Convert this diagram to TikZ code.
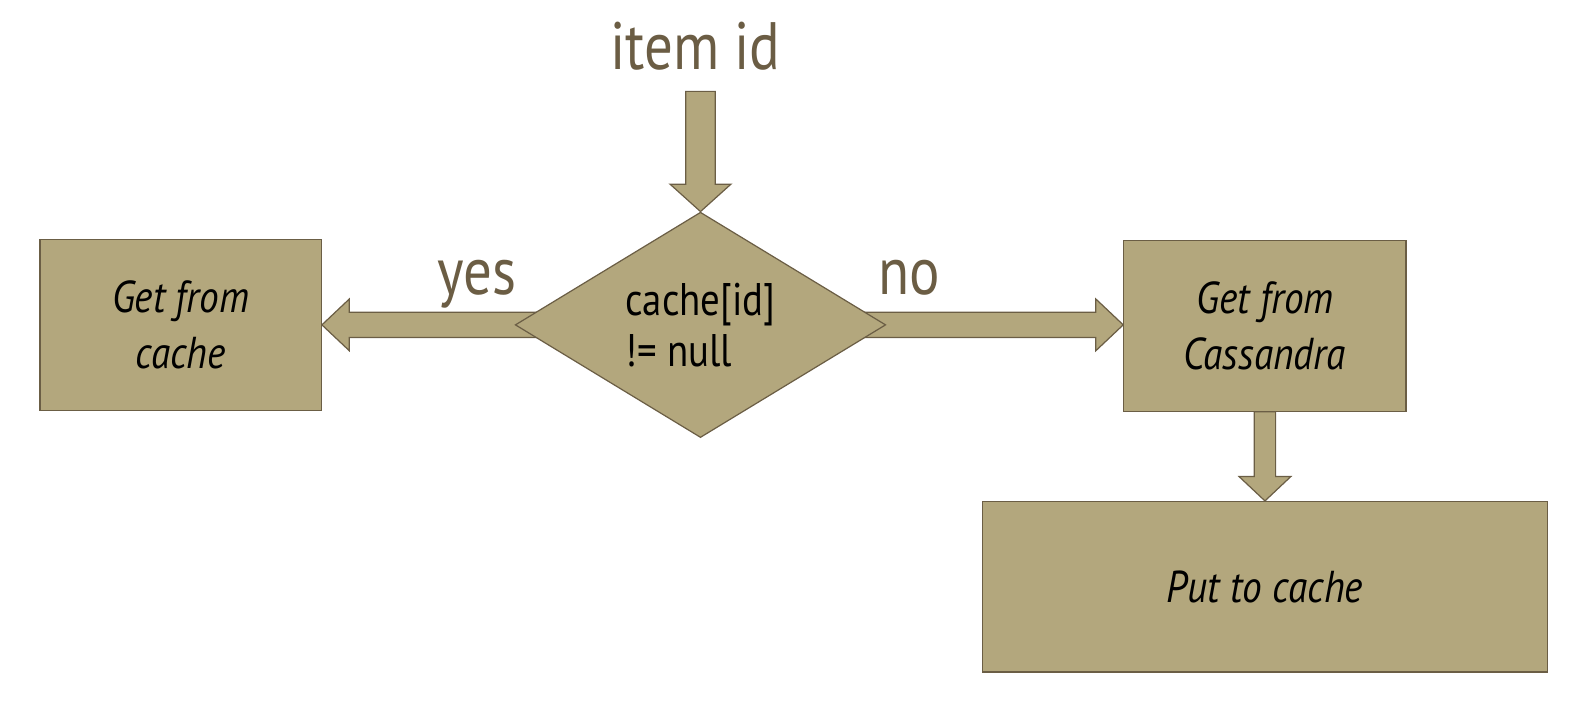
\documentclass[tikz,border=0pt]{standalone}
\usepackage{fontspec}
\setmainfont[FakeStretch=0.85]{PT Sans}
\newfontfamily\boxit[FakeStretch=0.88]{PT Sans}
\usetikzlibrary{shapes.geometric,calc,backgrounds}
\definecolor{boxfill}{HTML}{B3A77D}
\definecolor{boxline}{HTML}{6B5E45}
\definecolor{labtext}{HTML}{6B5D44}
\tikzset{
  stepbox/.style={draw=boxline, fill=boxfill, line width=1.2pt, rectangle, inner sep=0pt,
    minimum height=168pt, align=center, text=black,
    font=\boxit\itshape\fontsize{44}{55}\selectfont},
  decbox/.style={draw=boxline, fill=boxfill, line width=1.2pt, diamond, aspect=1.65, inner sep=0pt,
    minimum width=365pt, minimum height=222pt, align=left, text=black,
    font=\fontsize{45}{50}\selectfont},
  lab/.style={text=labtext, inner sep=0pt, anchor=base, font=\fontsize{66}{70}\selectfont},
  blockarrow/.style={draw=boxline, fill=boxfill, line width=1.2pt, line join=miter}
}
% #1 start, #2 tip, #3 half shaft, #4 half head, #5 head length
\newcommand\myblockarrow[5]{%
  \draw[blockarrow] ($(#1)!#3!90:(#2)$)
    -- ($($(#2)!#5!(#1)$)!#3!-90:(#1)$)
    -- ($($(#2)!#5!(#1)$)!#4!-90:(#1)$)
    -- (#2)
    -- ($($(#2)!#5!(#1)$)!#4!90:(#1)$)
    -- ($($(#2)!#5!(#1)$)!#3!90:(#1)$)
    -- ($(#1)!#3!-90:(#2)$) -- cycle;}
\begin{document}
\begin{tikzpicture}[x=1pt,y=-1pt]
  \useasboundingbox (0,0) rectangle (1566.2,699.4);
  \node[lab] (title) at (685,68) {item id};
  \node[decbox] (dec) at (690,320) {cache[id]\\!= null};
  \node[stepbox, minimum width=277pt] (lbox) at (178,320) {Get from\\cache};
  \node[stepbox, minimum width=278pt] (rbox) at (1246,321) {Get from\\Cassandra};
  \node[stepbox, minimum width=557pt] (pbox) at (1246,578) {Put to cache};
  \node[lab] (yes) at (470,290) {yes};
  \node[lab] (no) at (896,290) {no};
  \coordinate (in) at ($(dec.north |- title.south)+(0,21)$);
  \coordinate (lt) at (lbox.east |- dec.center);
  \coordinate (rt) at (rbox.west |- dec.center);
  \begin{scope}[on background layer]
    \myblockarrow{in}{dec.north}{14.5pt}{30pt}{27pt}
    \myblockarrow{dec.center}{lt}{12.5pt}{25.5pt}{27pt}
    \myblockarrow{dec.center}{rt}{12.5pt}{25.5pt}{27pt}
    \myblockarrow{rbox.south}{pbox.north}{10.5pt}{25.5pt}{24pt}
  \end{scope}
\end{tikzpicture}
\end{document}
